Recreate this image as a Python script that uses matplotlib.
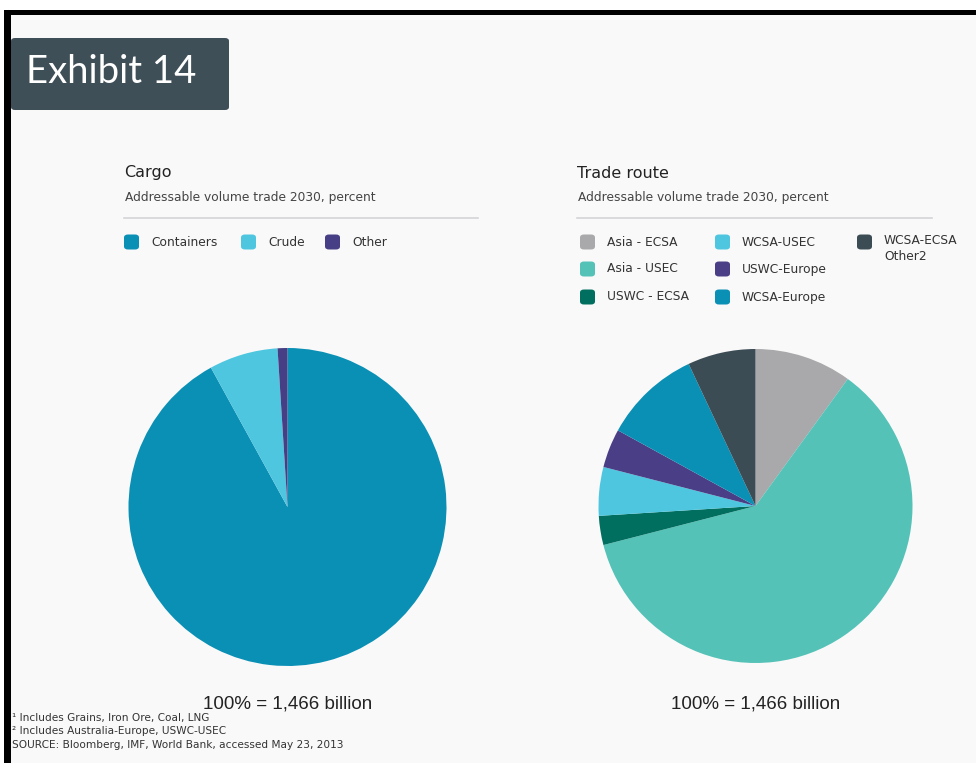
import matplotlib.pyplot as plt
from matplotlib.patches import Rectangle, FancyBboxPatch

plt.rcParams['font.family'] = ['DejaVu Sans']

# Cargo split, percent
cargo_labels = ['Containers', 'Crude', 'Other']
cargo_values = [92, 7, 1]
cargo_colors = ['#0a8fb5', '#4ec6e0', '#463f86']

# Trade route split, percent
route_labels = ['Asia - ECSA', 'Asia - USEC', 'USWC - ECSA', 'WCSA-USEC',
                'USWC-Europe', 'WCSA-Europe', 'WCSA-ECSA\nOther2']
route_values = [10, 61, 3, 5, 4, 10, 7]
route_colors = ['#a9a9ab', '#55c2b8', '#006f5f', '#4ec6e0',
                '#4a3f86', '#0a8fb5', '#3c4c55']

total_label = '100% = 1,466 billion'
subtitle = 'Addressable volume trade 2030, percent'
footnotes = ['\u00b9 Includes Grains, Iron Ore, Coal, LNG',
             '\u00b2 Includes Australia-Europe, USWC-USEC',
             'SOURCE: Bloomberg, IMF, World Bank, accessed May 23, 2013']

W, H = 976, 763
fig = plt.figure(figsize=(W / 100, H / 100), dpi=100)
fig.patch.set_facecolor('white')


def fx(x):
    return x / W


def fy(y):
    return 1 - y / H


# panel background and black frame
fig.patches.append(Rectangle((fx(11), 0), 1, fy(15), transform=fig.transFigure,
                             facecolor='#f9f9f9', edgecolor='none', zorder=-3))
fig.patches.append(Rectangle((fx(4), fy(15)), 1, 5 / H, transform=fig.transFigure,
                             facecolor='black', edgecolor='none', zorder=-2))
fig.patches.append(Rectangle((fx(4), 0), 7 / W, fy(10), transform=fig.transFigure,
                             facecolor='black', edgecolor='none', zorder=-2))

# title box
fig.patches.append(FancyBboxPatch((fx(11), fy(110)), (229 - 11) / W, 72 / H,
                                  boxstyle='round,pad=0,rounding_size=0.004',
                                  transform=fig.transFigure,
                                  facecolor='#3f4f58', edgecolor='none', zorder=2))
fig.text(fx(26), fy(72), 'Exhibit 14', color='white', fontsize=27.5,
         family='Lato', va='center', ha='left', zorder=3)


def panel(x0, x1, title, labels, colors, legend_pos, cx, cy, r, values):
    fig.text(fx(x0), fy(173), title, fontsize=11.5, color='#222222', va='center')
    fig.text(fx(x0 + 1), fy(197), subtitle, fontsize=8.8, color='#444444', va='center')
    fig.add_artist(plt.Line2D([fx(x0), fx(x1)], [fy(218), fy(218)],
                              transform=fig.transFigure, color='#d4d4d8', lw=1.2))
    for lab, col, (sx, sy) in zip(labels, colors, legend_pos):
        fig.patches.append(FancyBboxPatch((fx(sx), fy(sy + 7.5)), 15 / W, 15 / H,
                                          boxstyle='round,pad=0,rounding_size=0.004',
                                          transform=fig.transFigure,
                                          facecolor=col, edgecolor='none'))
        multi = '\n' in lab
        fig.text(fx(sx + 27), fy(sy - 8) if multi else fy(sy), lab,
                 fontsize=8.8, color='#333333',
                 va='top' if multi else 'center', linespacing=1.25)

    ax = fig.add_axes([fx(cx - r), fy(cy + r), 2 * r / W, 2 * r / H])
    ax.set_zorder(5)
    ax.pie(values, colors=colors, startangle=90, counterclock=False,
           radius=1, wedgeprops=dict(linewidth=0))
    ax.set_xlim(-1, 1)
    ax.set_ylim(-1, 1)
    ax.set_aspect('equal')
    ax.axis('off')
    fig.text(fx(cx), fy(704), total_label, fontsize=13.5, family='Liberation Sans',
             ha='center', va='center', color='#222222')


cargo_leg = [(124, 242), (241, 242), (325, 242)]
panel(124, 478, 'Cargo', cargo_labels, cargo_colors, cargo_leg,
      287.5, 507, 159, cargo_values)

route_leg = [(580, 242), (580, 269), (580, 297), (715, 242),
             (715, 269), (715, 297), (857, 242)]
panel(577, 932, 'Trade route', route_labels, route_colors, route_leg,
      755.5, 506, 157, route_values)

for i, note in enumerate(footnotes):
    fig.text(fx(12), fy([718, 731, 745][i]), note, fontsize=7.6,
             color='#333333', va='center')

fig.savefig('out.png', dpi=100, facecolor='white')
